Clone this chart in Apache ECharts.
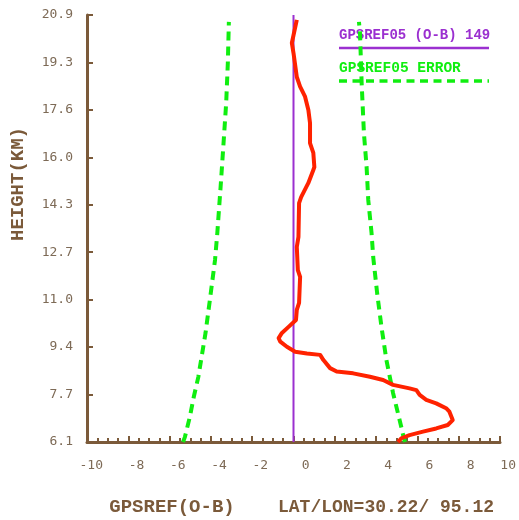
<!DOCTYPE html>
<html>
<head>
<meta charset="UTF-8">
<title>GPSREF O-B</title>
<script src="https://cdn.jsdelivr.net/npm/echarts@6/dist/echarts.min.js"></script>
<style>
  html, body { margin: 0; padding: 0; background: #fff; }
  #main { width: 519px; height: 520px; }
</style>
</head>
<body>
<div id="main"></div>
<script>
// height axis (km) and its printed labels
var yMin = 6.1, yMax = 20.9;
var yTickLabels = ['6.1', '7.7', '9.4', '11.0', '12.7', '14.3', '16.0', '17.6', '19.3', '20.9'];

// O-B profile (red)
var obHeight = [6.1, 6.23, 6.34, 6.46, 6.57, 6.69, 6.86, 7.15, 7.27, 7.44, 7.56, 7.73, 7.90, 7.96,
  8.08, 8.25, 8.36, 8.48, 8.54, 8.66, 8.94, 9.12, 9.17, 9.23, 9.40, 9.58, 9.70, 9.88, 10.09,
  10.33, 10.68, 10.92, 11.82, 12.06, 12.86, 13.21, 14.38, 14.59, 15.08, 15.53, 15.63, 16.12,
  16.46, 17.16, 17.61, 18.07, 18.42, 18.75, 19.58, 19.93, 20.73];
var obValue = [5.06, 5.22, 5.62, 6.27, 6.91, 7.47, 7.71, 7.55, 7.39, 6.91, 6.43, 6.11, 5.95, 5.62,
  4.82, 4.34, 3.70, 2.89, 2.09, 1.77, 1.45, 1.29, 0.65, 0.08, -0.32, -0.64, -0.72, -0.56, -0.24,
  0.12, 0.16, 0.27, 0.32, 0.21, 0.16, 0.24, 0.27, 0.37, 0.72, 0.96, 1.01, 0.96,
  0.80, 0.80, 0.72, 0.56, 0.32, 0.16, 0.0, -0.08, 0.16];

// error envelope (green), left and right branches
var errLeftHeight = [6.1, 6.27, 6.97, 7.66, 8.35, 9.18, 9.88, 11.02, 12.41, 13.34, 14.94, 16.33, 17.85, 19.24, 20.66];
var errLeftValue = [-5.35, -5.26, -5.02, -4.83, -4.61, -4.42, -4.26, -4.05, -3.80, -3.69, -3.53, -3.40, -3.26, -3.18, -3.13];
var errRightHeight = [6.1, 6.27, 6.62, 7.80, 8.94, 10.09, 11.26, 12.51, 13.34, 14.49, 15.63, 16.81, 18.54, 20.28, 20.66];
var errRightValue = [5.40, 5.33, 5.22, 4.82, 4.50, 4.26, 4.05, 3.86, 3.78, 3.62, 3.54, 3.41, 3.30, 3.22, 3.17];

// zero line (purple)
var zeroHeight = [6.1, 20.9];
var zeroValue = [0, 0];

function pairs(xs, ys) {
  var out = [];
  for (var i = 0; i < xs.length; i++) out.push([xs[i], ys[i]]);
  return out;
}

var yStep = (yMax - yMin) / (yTickLabels.length - 1);
var yTickPos = yTickLabels.map(function (s, i) { return yMin + i * yStep; });

var brown = '#7b5a3a';
var labelColor = '#7d6a56';
var mono = 'DejaVu Sans Mono';
var bold = 'Liberation Mono';

var option = {
  animation: false,
  backgroundColor: '#fff',
  grid: { left: 87, top: 15, right: 17, bottom: 78, containLabel: false },
  xAxis: {
    type: 'value',
    min: -10, max: 10, interval: 2,
    axisLine: { onZero: false, lineStyle: { color: brown, width: 3 } },
    axisTick: { inside: true, length: 6, lineStyle: { color: brown, width: 2 } },
    minorTick: { show: true, splitNumber: 4, length: 4, lineStyle: { color: brown, width: 2 } },
    splitLine: { show: false },
    axisLabel: {
      margin: 17,
      align: 'left',
      formatter: function (v) { return '{a|' + v + '}'; },
      rich: { a: { width: 16, align: 'right', color: labelColor, fontFamily: mono, fontSize: 13 } }
    }
  },
  yAxis: {
    type: 'value',
    min: yMin, max: yMax,
    axisLine: { onZero: false, lineStyle: { color: brown, width: 3 } },
    axisTick: { inside: true, length: 6, customValues: yTickPos, lineStyle: { color: brown, width: 2 } },
    splitLine: { show: false },
    axisLabel: {
      margin: 14,
      customValues: yTickPos,
      color: labelColor, fontFamily: mono, fontSize: 13,
      formatter: function (v) { return yTickLabels[Math.round((v - yMin) / yStep)]; }
    }
  },
  series: [
    {
      name: 'err-left', type: 'line', showSymbol: false, symbol: 'none',
      data: pairs(errLeftValue, errLeftHeight),
      lineStyle: { color: '#10ee10', width: 4, type: [9, 6] }
    },
    {
      name: 'err-right', type: 'line', showSymbol: false, symbol: 'none',
      data: pairs(errRightValue, errRightHeight),
      lineStyle: { color: '#10ee10', width: 4, type: [9, 6] }
    },
    {
      name: 'zero', type: 'line', showSymbol: false, symbol: 'none',
      data: pairs(zeroValue, zeroHeight),
      lineStyle: { color: '#9b30d0', width: 2 }
    },
    {
      name: 'O-B', type: 'line', showSymbol: false, symbol: 'none', clip: false,
      data: pairs(obValue, obHeight),
      lineStyle: { color: '#ff2200', width: 4, join: 'round' }
    }
  ],
  graphic: [
    { type: 'text', left: 9, top: 127, rotation: Math.PI / 2,
      style: { text: 'HEIGHT(KM)', fill: brown, font: 'bold 19px "' + bold + '"' } },
    { type: 'text', x: 172, y: 507,
      style: { text: 'GPSREF(O-B)', fill: brown, font: 'bold 19px "' + bold + '"', align: 'center', verticalAlign: 'middle' } },
    { type: 'text', x: 386, y: 507,
      style: { text: 'LAT/LON=30.22/ 95.12', fill: brown, font: 'bold 18px "' + bold + '"', align: 'center', verticalAlign: 'middle' } },
    { type: 'text', x: 339, y: 35,
      style: { text: 'GPSREF05 (O-B) 149', fill: '#9b30d0', font: 'bold 14px "' + bold + '"', verticalAlign: 'middle' } },
    { type: 'line', shape: { x1: 339, y1: 48, x2: 489, y2: 48 },
      style: { stroke: '#9b30d0', lineWidth: 2.5 } },
    { type: 'text', x: 339, y: 68,
      style: { text: 'GPSREF05 ERROR', fill: '#10ee10', font: 'bold 14.5px "' + bold + '"', verticalAlign: 'middle' } },
    { type: 'line', shape: { x1: 339, y1: 81, x2: 489, y2: 81 },
      style: { stroke: '#10ee10', lineWidth: 3.5, lineDash: [8, 5.5] } }
  ]
};

var chart = echarts.init(document.getElementById('main'));
chart.setOption(option);
</script>
</body>
</html>
